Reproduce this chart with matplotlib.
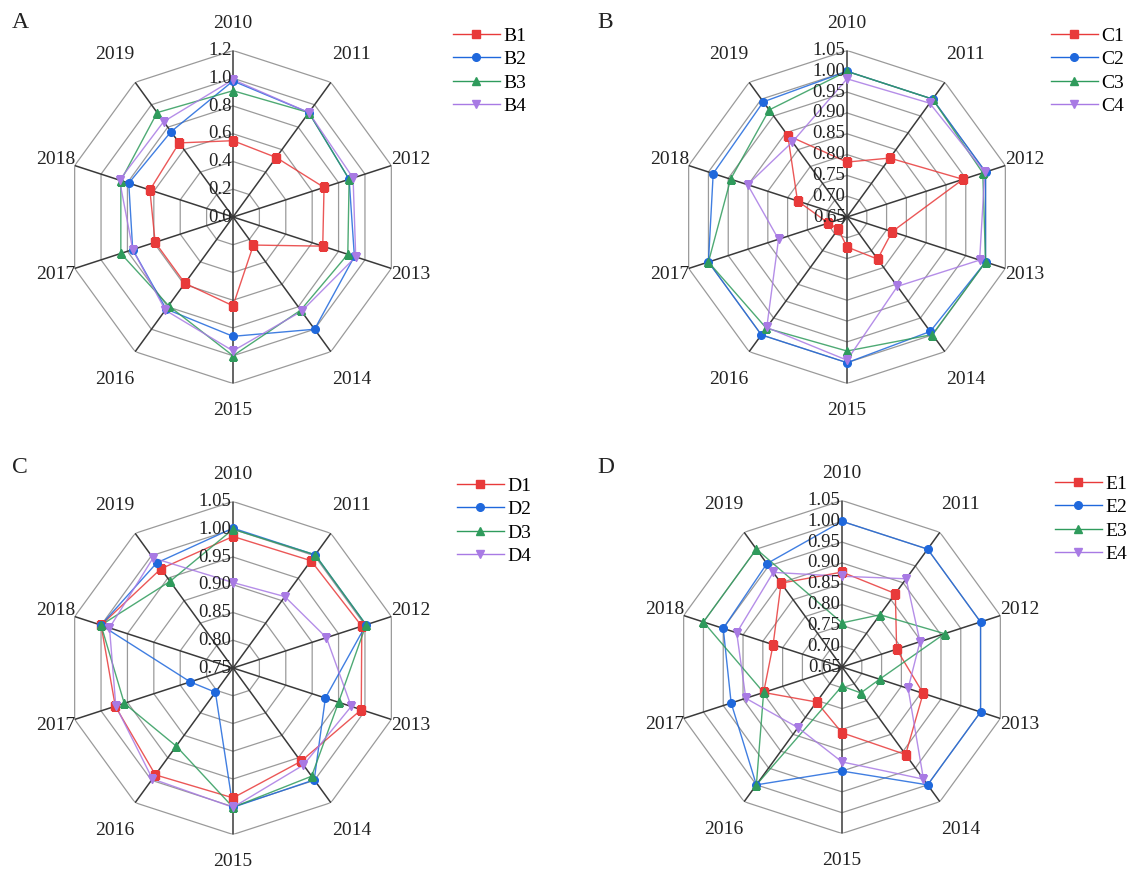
import numpy as np
import matplotlib
matplotlib.use('Agg')
import matplotlib.pyplot as plt

plt.rcParams['font.family'] = ['Liberation Serif', 'DejaVu Serif']

years = ['2010', '2011', '2012', '2013', '2014', '2015', '2016', '2017', '2018', '2019']

B1 = [0.55, 0.53, 0.69, 0.68, 0.25, 0.64, 0.59, 0.59, 0.63, 0.66]
B2 = [0.98, 0.93, 0.88, 0.92, 1.00, 0.86, 0.82, 0.76, 0.79, 0.76]
B3 = [0.91, 0.93, 0.88, 0.87, 0.83, 1.00, 0.79, 0.85, 0.85, 0.93]
B4 = [0.99, 0.93, 0.91, 0.93, 0.84, 0.965, 0.83, 0.76, 0.86, 0.85]

C1 = [0.782, 0.825, 0.943, 0.764, 0.775, 0.722, 0.686, 0.697, 0.775, 0.892]
C2 = [1.00, 1.00, 1.00, 1.00, 0.99, 1.00, 1.00, 1.00, 0.988, 0.992]
C3 = [1.00, 1.00, 0.993, 1.00, 0.999, 0.972, 0.98, 1.00, 0.944, 0.968]
C4 = [0.982, 0.988, 0.998, 0.985, 0.856, 0.994, 0.978, 0.823, 0.901, 0.873]

D1 = [0.987, 0.989, 0.994, 0.993, 0.958, 0.984, 0.988, 0.973, 1.00, 0.971]
D2 = [1.002, 1.002, 1.002, 0.925, 0.999, 1.001, 0.804, 0.831, 1.00, 0.984]
D3 = [1.00, 1.002, 1.002, 0.95, 0.991, 1.001, 0.924, 0.956, 1.00, 0.943]
D4 = [0.904, 0.909, 0.927, 0.974, 0.966, 1.001, 0.997, 0.972, 0.984, 0.995]

E1 = [0.878, 0.868, 0.788, 0.855, 0.91, 0.808, 0.754, 0.848, 0.824, 0.899]
E2 = [1.00, 1.00, 1.00, 1.00, 1.00, 0.90, 1.00, 0.93, 0.95, 0.957]
E3 = [0.756, 0.805, 0.909, 0.745, 0.727, 0.696, 1.00, 0.848, 1.00, 1.00]
E4 = [0.868, 0.912, 0.847, 0.817, 0.983, 0.878, 0.83, 0.893, 0.916, 0.931]

ticks_A = [0.0, 0.2, 0.4, 0.6, 0.8, 1.0, 1.2]
ticks_B = [0.65, 0.70, 0.75, 0.80, 0.85, 0.90, 0.95, 1.00, 1.05]
ticks_C = [0.75, 0.80, 0.85, 0.90, 0.95, 1.00, 1.05]
ticks_D = [0.65, 0.70, 0.75, 0.80, 0.85, 0.90, 0.95, 1.00, 1.05]

colors = ['#e83a3a', '#1f68dc', '#2f9b5c', '#a87ae4']
markers = ['s', 'o', '^', 'v']

W, H = 1140, 871
R = 166.5
fig = plt.figure(figsize=(W / 100, H / 100), dpi=100)


def radar(cx, cy, ticks, fmt, series, names, legend_xy, letter, letter_xy):
    ax = fig.add_axes([(cx - R) / W, (H - cy - R) / H, 2 * R / W, 2 * R / H],
                      projection='polar')
    ax.set_theta_zero_location('N')
    ax.set_theta_direction(-1)
    rmin, rmax = ticks[0], ticks[-1]
    ax.set_ylim(rmin, rmax)
    ax.set_xticks([])
    ax.set_yticks([])
    ax.grid(False)
    ax.spines['polar'].set_visible(False)
    ax.patch.set_alpha(0)

    theta = np.linspace(0, 2 * np.pi, len(years), endpoint=False)
    closed = np.append(theta, theta[0])

    # decagon rings
    for t in ticks[1:]:
        ax.plot(closed, [t] * len(closed), color='#9a9a9a', lw=0.9, zorder=1)
    # spokes
    for th in theta:
        ax.plot([th, th], [rmin, rmax], color='#3a3a3a', lw=1.1, zorder=2)

    for vals, name, c, m in zip(series, names, colors, markers):
        v = np.append(vals, vals[0])
        ax.plot(closed, v, color=c, lw=1.0, alpha=0.85, zorder=3)
        ax.plot(theta, vals, linestyle='none', marker=m, color=c,
                markersize=5.5, zorder=4, label=name)

    for t in ticks:
        ax.annotate(fmt % t, xy=(0, t), xytext=(-1, 0), textcoords='offset points',
                    ha='right', va='center', fontsize=13.5, color='#222222', zorder=5)

    for th, yr in zip(theta, years):
        deg = np.degrees(th) % 180
        if abs(deg - 72) < 1 or abs(deg - 108) < 1:
            f = 1.12
        elif deg < 1:
            f = 1.165
        else:
            f = 1.21
        ax.text(th, rmin + f * (rmax - rmin), yr, ha='center', va='center',
                fontsize=14, color='#222222')

    handles = [plt.Line2D([0], [0], color=c, lw=1.0, marker=m, markersize=5.5)
               for c, m in zip(colors, markers)]
    fig.legend(handles, names, loc='upper left',
               bbox_to_anchor=(legend_xy[0] / W, 1 - legend_xy[1] / H),
               frameon=False, fontsize=14, handlelength=2.4, handletextpad=0.2,
               labelspacing=0.3, borderpad=0, borderaxespad=0)
    fig.text(letter_xy[0] / W, 1 - letter_xy[1] / H, letter, fontsize=17,
             ha='left', va='center', color='#222222')


radar(233, 217, ticks_A, '%.1f', [B1, B2, B3, B4], ['B1', 'B2', 'B3', 'B4'],
      (453, 27), 'A', (12, 22))
radar(847, 217, ticks_B, '%.2f', [C1, C2, C3, C4], ['C1', 'C2', 'C3', 'C4'],
      (1051, 27), 'B', (597, 22))
radar(233, 668, ticks_C, '%.2f', [D1, D2, D3, D4], ['D1', 'D2', 'D3', 'D4'],
      (457, 477), 'C', (12, 467))
radar(842, 667, ticks_D, '%.2f', [E1, E2, E3, E4], ['E1', 'E2', 'E3', 'E4'],
      (1055, 475), 'D', (597, 467))

fig.savefig('out.png', dpi=100, facecolor='white')
